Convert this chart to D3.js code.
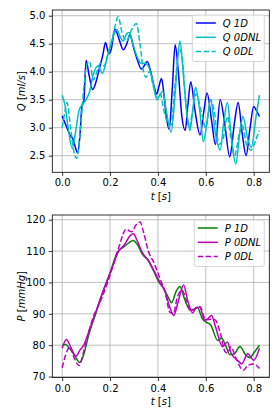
<!DOCTYPE html>
<html>
<head>
<meta charset="utf-8">
<script src="https://d3js.org/d3.v7.min.js"></script>
<style>
  body { margin: 0; background: #fff; }
  text { font-family: "DejaVu Sans", sans-serif; font-size: 10px; fill: #000; }
  .leg text, .ital { font-style: italic; }
</style>
</head>
<body>
<div id="chart"></div>
<script>
// flow, top panel
var tQ1D   = [0,0.02,0.035,0.045,0.055,0.065,0.075,0.083,0.09,0.1,0.112,0.127,0.14,0.155,0.17,0.181,0.195,0.205,0.22,0.24,0.255,0.27,0.283,0.3,0.315,0.33,0.342,0.355,0.37,0.385,0.395,0.405,0.415,0.425,0.435,0.447,0.46,0.472,0.485,0.5,0.514,0.525,0.537,0.555,0.576,0.592,0.605,0.625,0.64,0.66,0.678,0.7,0.72,0.735,0.752,0.768,0.785,0.8,0.812,0.824];
var vQ1D   = [3.21,3.0,2.85,2.8,2.65,2.55,2.9,3.4,3.45,4.2,3.95,3.68,3.8,4.05,4.3,4.52,4.32,4.4,4.76,4.55,4.39,4.5,4.66,4.4,4.2,4.05,4.1,4.18,4.0,3.72,3.6,3.75,3.88,3.6,3.2,2.97,3.7,4.48,4.0,3.2,2.95,3.4,3.82,3.3,2.87,3.3,3.62,3.1,2.7,3.5,3.1,2.48,3.1,3.45,2.9,2.5,3.0,3.38,3.3,3.2];
var tQ0DNL = [0,0.012,0.025,0.042,0.055,0.07,0.085,0.1,0.115,0.13,0.15,0.168,0.185,0.2,0.215,0.228,0.245,0.255,0.27,0.28,0.295,0.31,0.33,0.345,0.36,0.38,0.395,0.41,0.42,0.435,0.455,0.47,0.482,0.492,0.505,0.52,0.534,0.545,0.557,0.575,0.59,0.605,0.62,0.64,0.66,0.675,0.69,0.705,0.725,0.742,0.755,0.775,0.79,0.81,0.824];
var vQ0DNL = [3.58,3.4,3.0,2.63,2.9,3.3,3.42,3.5,3.65,3.95,4.1,3.97,4.2,4.45,4.65,4.75,4.6,4.55,4.68,4.7,4.5,4.3,4.15,4.15,4.1,3.8,3.5,3.6,3.65,3.3,2.92,3.5,4.2,4.55,4.0,3.3,2.95,3.3,3.72,3.3,2.75,3.1,3.5,2.9,2.6,3.1,3.45,2.9,2.35,2.9,3.2,2.8,2.65,3.2,3.58];
var tQ0DL  = [0,0.012,0.02,0.035,0.05,0.06,0.075,0.09,0.105,0.115,0.13,0.145,0.16,0.175,0.19,0.205,0.22,0.234,0.25,0.269,0.29,0.31,0.325,0.34,0.35,0.365,0.38,0.395,0.41,0.425,0.44,0.455,0.47,0.49,0.5,0.515,0.53,0.545,0.56,0.58,0.6,0.62,0.635,0.655,0.672,0.69,0.705,0.72,0.74,0.752,0.77,0.79,0.81,0.824];
var vQ0DL  = [3.0,3.3,3.45,3.0,2.55,2.45,2.9,3.7,4.15,4.18,3.85,4.0,4.15,4.1,4.3,4.5,4.8,4.98,4.7,4.55,4.75,4.86,4.5,4.0,3.9,4.0,3.75,3.55,3.6,3.3,3.1,3.05,3.7,4.4,4.3,3.5,3.0,3.3,3.6,3.3,3.0,3.5,3.3,2.7,2.8,3.2,2.8,2.5,2.9,3.05,2.7,2.6,2.8,2.95];

// pressure, bottom panel
var tP1D   = [0,0.015,0.03,0.05,0.074,0.09,0.11,0.14,0.17,0.2,0.23,0.26,0.28,0.297,0.315,0.335,0.36,0.38,0.405,0.425,0.445,0.457,0.475,0.492,0.51,0.534,0.55,0.565,0.585,0.603,0.62,0.65,0.665,0.68,0.7,0.715,0.743,0.765,0.785,0.8,0.824];
var vP1D   = [80,80.2,79,77,74.5,77,83,90,97,103,109.5,111.5,112.7,113.4,112,109,107,104,100,98,95,93.5,97,98.7,95,91.3,91.5,92,88.5,87.3,86.5,81.5,82.2,80.5,77,77,79.6,77,76,77.5,80];
var tP0DNL = [0,0.018,0.035,0.057,0.075,0.09,0.11,0.14,0.17,0.19,0.21,0.235,0.26,0.285,0.297,0.315,0.335,0.36,0.385,0.405,0.43,0.45,0.466,0.485,0.507,0.525,0.545,0.56,0.575,0.595,0.61,0.624,0.64,0.67,0.69,0.705,0.735,0.75,0.775,0.8,0.824];
var vP0DNL = [79,81.8,79.5,76.5,78.5,80,84,90.5,97,101,105,109.8,112,115,115.5,113,109.5,107,103.5,100.5,97,92,89.5,94,99.2,94,90.3,92,92,88,88.5,89.5,86,79.5,81,77.5,75,74,77.3,75.2,79];
var tP0DL  = [0,0.015,0.032,0.05,0.07,0.09,0.11,0.13,0.16,0.19,0.215,0.24,0.255,0.266,0.28,0.29,0.31,0.325,0.34,0.36,0.385,0.41,0.43,0.45,0.465,0.48,0.5,0.52,0.535,0.555,0.575,0.6,0.62,0.64,0.66,0.68,0.69,0.705,0.725,0.757,0.775,0.8,0.824];
var vP0DL  = [72.8,77,79.5,76,73.5,78,84,89,94,100,106,112,115.5,117,116.5,116.2,118.5,119.3,116,110,106,101,97,90.5,90,95,97.5,94,91,91.5,92.3,88,88.3,88,84,78,77.5,79.5,76,72,73.5,74,72.6];

var xTicks  = [0, 0.2, 0.4, 0.6, 0.8];
var qTicks  = [2.5, 3.0, 3.5, 4.0, 4.5, 5.0];
var pTicks  = [70, 80, 90, 100, 110, 120];

var svg = d3.select("#chart").append("svg")
    .attr("width", 280)
    .attr("height", 420);

function zip(ts, vs) {
    return ts.map(function (t, i) { return [t, vs[i]]; });
}

function panel(opt) {
    var x = d3.scaleLinear().domain([-0.0412, 0.8652]).range([opt.left, opt.right]);
    var y = d3.scaleLinear().domain(opt.yDomain).range([opt.bottom, opt.top]);
    var g = svg.append("g");

    // grid
    g.append("g").selectAll("line").data(xTicks).enter().append("line")
        .attr("x1", function (d) { return x(d); }).attr("x2", function (d) { return x(d); })
        .attr("y1", opt.top).attr("y2", opt.bottom)
        .attr("stroke", "#b0b0b0").attr("stroke-width", 0.8);
    g.append("g").selectAll("line").data(opt.yTicks).enter().append("line")
        .attr("y1", function (d) { return y(d); }).attr("y2", function (d) { return y(d); })
        .attr("x1", opt.left).attr("x2", opt.right)
        .attr("stroke", "#b0b0b0").attr("stroke-width", 0.8);

    // lines
    var clip = "clip" + opt.id;
    svg.append("clipPath").attr("id", clip).append("rect")
        .attr("x", opt.left).attr("y", opt.top)
        .attr("width", opt.right - opt.left).attr("height", opt.bottom - opt.top);
    var line = d3.line()
        .x(function (d) { return x(d[0]); })
        .y(function (d) { return y(d[1]); })
        .curve(d3.curveMonotoneX);
    opt.series.forEach(function (s) {
        g.append("path")
            .attr("clip-path", "url(#" + clip + ")")
            .attr("d", line(zip(s.t, s.v)))
            .attr("fill", "none")
            .attr("stroke", s.color)
            .attr("stroke-width", 1.5)
            .attr("stroke-dasharray", s.dash ? "5.55,2.4" : null);
    });

    // axes
    var xa = g.append("g").attr("transform", "translate(0," + opt.bottom + ")")
        .call(d3.axisBottom(x).tickValues(xTicks).tickFormat(d3.format(".1f")).tickSizeInner(3.5).tickSizeOuter(0).tickPadding(3.5));
    var ya = g.append("g").attr("transform", "translate(" + opt.left + ",0)")
        .call(d3.axisLeft(y).tickValues(opt.yTicks).tickFormat(opt.fmt).tickSizeInner(3.5).tickSizeOuter(0).tickPadding(3.5));
    [xa, ya].forEach(function (a) {
        a.select(".domain").remove();
        a.selectAll("line").attr("stroke", "#000").attr("stroke-width", 0.8);
        a.selectAll("text").attr("font-size", 10).attr("font-family", "DejaVu Sans").attr("fill", "#000");
    });

    g.append("rect")
        .attr("x", opt.left).attr("y", opt.top)
        .attr("width", opt.right - opt.left).attr("height", opt.bottom - opt.top)
        .attr("fill", "none").attr("stroke", "#000").attr("stroke-width", 0.8);

    // axis labels
    var xl = g.append("text")
        .attr("x", (opt.left + opt.right) / 2).attr("y", opt.bottom + 27.5)
        .attr("text-anchor", "middle");
    xl.append("tspan").attr("class", "ital").text("t");
    xl.append("tspan").text(" [");
    xl.append("tspan").attr("class", "ital").text("s");
    xl.append("tspan").text("]");

    var yl = g.append("text")
        .attr("transform", "translate(25," + (opt.top + opt.bottom) / 2 + ") rotate(-90)")
        .attr("text-anchor", "middle");
    yl.append("tspan").attr("class", "ital").text(opt.yName);
    yl.append("tspan").text(" [");
    yl.append("tspan").attr("class", "ital").text(opt.yUnit);
    yl.append("tspan").text("]");

    // legend
    var lg = g.append("g").attr("class", "leg");
    lg.append("rect")
        .attr("x", opt.legX).attr("y", opt.top + 5)
        .attr("width", opt.right - 5 - opt.legX).attr("height", 46.5)
        .attr("rx", 2).attr("fill", "#fff").attr("fill-opacity", 0.8)
        .attr("stroke", "#cccccc").attr("stroke-width", 0.8);
    opt.series.forEach(function (s, i) {
        var yy = opt.top + 13 + i * 14.3;
        lg.append("line")
            .attr("x1", opt.legX + 3.5).attr("x2", opt.legX + 23.5)
            .attr("y1", yy).attr("y2", yy)
            .attr("stroke", s.color).attr("stroke-width", 1.5)
            .attr("stroke-dasharray", s.dash ? "5.55,2.4" : null);
        lg.append("text")
            .attr("x", opt.legX + 30.5).attr("y", yy + 3.6)
            .text(s.name);
    });
}

panel({
    id: "q", left: 52.3, right: 269.3, top: 10, bottom: 172.3,
    yDomain: [2.203, 5.102], yTicks: qTicks, fmt: d3.format(".1f"),
    yName: "Q", yUnit: "ml/s", legX: 192.3,
    series: [
        { name: "Q 1D", t: tQ1D, v: vQ1D, color: "#0000ff", dash: false },
        { name: "Q 0DNL", t: tQ0DNL, v: vQ0DNL, color: "#00bfbf", dash: false },
        { name: "Q 0DL", t: tQ0DL, v: vQ0DL, color: "#00bfbf", dash: true }
    ]
});

panel({
    id: "p", left: 52.3, right: 269.3, top: 215, bottom: 377.5,
    yDomain: [69.7, 121.5], yTicks: pTicks, fmt: d3.format("d"),
    yName: "P", yUnit: "mmHg", legX: 194.3,
    series: [
        { name: "P 1D", t: tP1D, v: vP1D, color: "#008000", dash: false },
        { name: "P 0DNL", t: tP0DNL, v: vP0DNL, color: "#bf00bf", dash: false },
        { name: "P 0DL", t: tP0DL, v: vP0DL, color: "#bf00bf", dash: true }
    ]
});
</script>
</body>
</html>
